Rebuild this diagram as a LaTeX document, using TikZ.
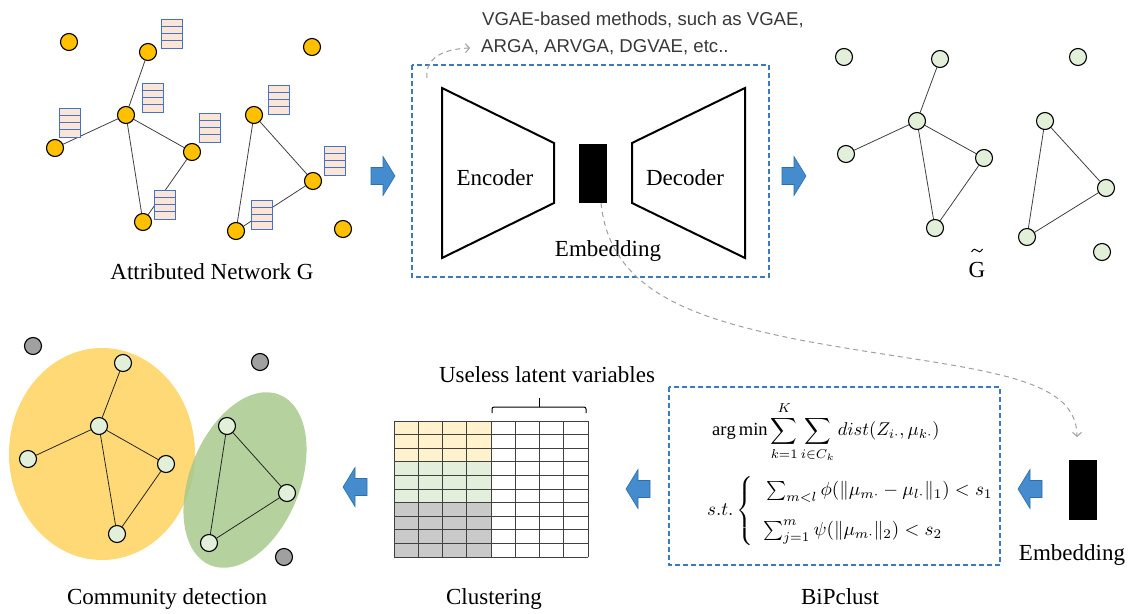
\documentclass[tikz,border=0pt]{standalone}
\usepackage{amsmath}
\usepackage{fontspec}
\setmainfont{Liberation Serif}
\newfontfamily\vgaefont{Liberation Sans}
\usetikzlibrary{arrows.meta}
\pgfdeclarelayer{back}
\pgfdeclarelayer{edges}
\pgfsetlayers{back,edges,main}
\definecolor{onodefill}{HTML}{FFC000}
\definecolor{lgreen}{HTML}{E2F0D9}
\definecolor{graynd}{HTML}{A0A0A0}
\definecolor{attrblue}{HTML}{4472C4}
\definecolor{peach}{HTML}{FBE5D6}
\definecolor{boxblue}{HTML}{3D7AB8}
\definecolor{arrfill}{HTML}{448CCD}
\definecolor{arrdraw}{HTML}{2F6EA8}
\definecolor{cellyel}{HTML}{FFF2CC}
\definecolor{cellgrn}{HTML}{E2EFDA}
\definecolor{cellgry}{HTML}{C9C9C9}
\definecolor{ellyel}{HTML}{FED976}
\definecolor{ellgrn}{HTML}{A8C98C}
\begin{document}
\begin{tikzpicture}[x=1pt,y=-1pt,
  onode/.style={circle,draw=black,line width=1.1pt,fill=onodefill,minimum size=17pt,inner sep=0pt},
  gnode/.style={circle,draw=black,line width=1.1pt,fill=lgreen,minimum size=17pt,inner sep=0pt},
  grnode/.style={circle,draw=black,line width=1.1pt,fill=graynd,minimum size=17pt,inner sep=0pt},
  edgeline/.style={draw=black!75,line width=0.8pt},
  lbl/.style={font=\fontsize{23}{27}\selectfont,inner sep=0pt},
  dbox/.style={draw=boxblue,dash pattern=on 5pt off 3pt,line width=1.4pt},
  trap/.style={draw=black,line width=2pt,line join=miter},
  gdash/.style={draw=gray!75,dash pattern=on 5pt off 4pt,line width=1pt,-{Straight Barb[length=4pt,width=9pt]}},
  blockarrow/.style={fill=arrfill,draw=arrdraw,line width=0.6pt,line join=miter},
  embrect/.style={fill=black,minimum width=28pt,minimum height=59pt,inner sep=0pt},
  attrbox/.pic={\draw[draw=attrblue,fill=peach,line width=1pt] (0,0) rectangle (21,29);
    \foreach \k in {1,2,3}{\draw[attrblue,line width=1.3pt] (0,7.25*\k) -- (21,7.25*\k);}},
  rarrow/.pic={\path[blockarrow] (-24,-8.5) -- (-12,-8.5) -- (-12,-19.5) -- (0,0) -- (-12,19.5) -- (-12,8.5) -- (-24,8.5) -- cycle;},
  larrow/.pic={\path[blockarrow] (24,-8.5) -- (12,-8.5) -- (12,-19.5) -- (0,0) -- (12,19.5) -- (12,8.5) -- (24,8.5) -- cycle;}
]
\useasboundingbox (0,0) rectangle (1132,613);

% ---------- top-left attributed network ----------
\node[onode] (a1) at (69,42) {};
\node[onode] (a2) at (148,52) {};
\node[onode] (a3) at (126,115) {};
\node[onode] (a4) at (55,148) {};
\node[onode] (a5) at (192,152) {};
\node[onode] (a6) at (143,222) {};
\node[onode] (a7) at (254,115) {};
\node[onode] (a8) at (313,181) {};
\node[onode] (a9) at (236,231) {};
\node[onode] (a10) at (312,47) {};
\node[onode] (a11) at (343,229) {};
\begin{pgfonlayer}{edges}
\draw[edgeline] (a2)--(a3) (a3)--(a4) (a3)--(a5) (a3)--(a6) (a5)--(a6)
  (a7)--(a8) (a7)--(a9) (a8)--(a9);
\end{pgfonlayer}
\pic at (161,19) {attrbox};
\pic at (142,83) {attrbox};
\pic at (59,108) {attrbox};
\pic at (199,113) {attrbox};
\pic at (154,190) {attrbox};
\pic at (268,85) {attrbox};
\pic at (324,146) {attrbox};
\pic at (251,200) {attrbox};
\node[lbl,anchor=base] (lblG) at (212,279) {Attributed Network G};

\pic at (395,176) {rarrow};

% ---------- middle VGAE box ----------
\draw[dbox] (412,65) rectangle (769,277);
\draw[trap] (442,88) -- (554,143) -- (554,203) -- (442,258) -- cycle;
\draw[trap] (745,88) -- (632,143) -- (632,203) -- (745,258) -- cycle;
\node[embrect] (emb1) at (593,173.5) {};
\node[lbl,anchor=base] (enc) at (495,185) {Encoder};
\node[lbl,anchor=base] (dec) at (685,185) {Decoder};
\node[lbl,anchor=base] (embl) at (608,256) {Embedding};
\node[anchor=base west,inner sep=0pt,font=\vgaefont\fontsize{18.6}{22}\selectfont,text=black!78] (vg1) at (482,25) {VGAE-based methods, such as VGAE,};
\node[anchor=base west,inner sep=0pt,font=\vgaefont\fontsize{18.6}{22}\selectfont,text=black!78] (vg2) at (481,52) {ARGA, ARVGA, DGVAE, etc..};
\coordinate (c1s) at (427,78);
\coordinate (c1e) at (470,48);
\draw[gdash] (c1s) .. controls (425,60) and (440,49) .. (c1e);

\pic at (806,176) {rarrow};

% ---------- top-right reconstructed graph ----------
\node[gnode] (b1) at (844,57) {};
\node[gnode] (b2) at (940,59) {};
\node[gnode] (b3) at (917,121) {};
\node[gnode] (b4) at (846,154) {};
\node[gnode] (b5) at (984,158) {};
\node[gnode] (b6) at (935,228) {};
\node[gnode] (b7) at (1078,57) {};
\node[gnode] (b8) at (1045,121) {};
\node[gnode] (b9) at (1106,188) {};
\node[gnode] (b10) at (1027,237) {};
\node[gnode] (b11) at (1102,252) {};
\begin{pgfonlayer}{edges}
\draw[edgeline] (b2)--(b3) (b3)--(b4) (b3)--(b5) (b3)--(b6) (b5)--(b6)
  (b8)--(b9) (b8)--(b10) (b9)--(b10);
\end{pgfonlayer}
\node[lbl,anchor=base] (lblGt) at (977,277) {G};
\draw[line width=1pt] (971.5,252) .. controls (973.5,248.5) and (975.5,248.5) .. (977,250.5)
  .. controls (978.5,252.5) and (980.5,252.5) .. (982.5,249);

% ---------- bottom-right embedding ----------
\node[embrect,minimum height=60pt] (emb2) at (1083,490) {};
\node[lbl,anchor=base] (embl2) at (1072,560) {Embedding};
\coordinate (c2e) at (1077,437);
\draw[gdash] ([xshift=8pt]emb1.south) .. controls (610,290) and (690,318) .. (800,340)
  .. controls (960,370) and (1077,370) .. (c2e);

\pic at (1018,489) {larrow};

% ---------- BiPclust box ----------
\draw[dbox] (669,387) rectangle (1000,565);
\node[anchor=west,inner sep=0pt] (obj) at (712,432)
  {\scalebox{1.85}{$\displaystyle \arg\min\sum_{k=1}^{K}\sum_{i\in C_k} dist(Z_{i\cdot},\mu_{k\cdot})$}};
\node[anchor=west,inner sep=0pt] (cons) at (707,511)
  {\scalebox{1.9}{$s.t.\left\{\begin{array}{l}
     \rule{0pt}{9pt}\sum_{m<l}\phi(\|\mu_{m\cdot}-\mu_{l\cdot}\|_1)<s_1\\[9pt]
     \sum_{j=1}^{m}\psi(\|\mu_{m\cdot}\|_2)<s_2\rule[-4pt]{0pt}{4pt}
   \end{array}\right.$}};
\node[lbl,anchor=base] (lblB) at (840,604) {BiPclust};

\pic at (626,489) {larrow};

% ---------- clustering grid ----------
\fill[cellyel] (394,421) rectangle (491,461.8);
\fill[cellgrn] (394,461.8) rectangle (491,502.6);
\fill[cellgry] (394,502.6) rectangle (491,557);
\foreach \c in {0,...,8}{\draw[black!75,line width=0.9pt] (394+24.25*\c,421) -- (394+24.25*\c,557);}
\foreach \r in {0,...,10}{\draw[black!75,line width=0.9pt] (394,421+13.6*\r) -- (588,421+13.6*\r);}
\draw[line width=1pt,rounded corners=2pt] (492,413) -- (492,407) -- (586,407) -- (586,413);
\draw[line width=1pt] (539,407) -- (539,398);
\node[lbl,anchor=base] (lblU) at (547,382) {Useless latent variables};
\node[lbl,anchor=base] (lblC) at (494,604) {Clustering};

\pic at (343,487) {larrow};

% ---------- bottom-left community detection ----------
\begin{pgfonlayer}{back}
\fill[ellyel] (102,454) ellipse [x radius=93, y radius=106];
\fill[ellgrn,opacity=0.85] (245,480) ellipse [x radius=55, y radius=92, rotate=-22];
\end{pgfonlayer}
\node[grnode] (g1) at (33,346) {};
\node[grnode] (g2) at (260,362) {};
\node[grnode] (g3) at (284,557) {};
\node[gnode] (d1) at (123,363) {};
\node[gnode] (d2) at (99,426) {};
\node[gnode] (d3) at (28,459) {};
\node[gnode] (d4) at (166,464) {};
\node[gnode] (d5) at (117,534) {};
\node[gnode] (d6) at (227,426) {};
\node[gnode] (d7) at (287,493) {};
\node[gnode] (d8) at (209,543) {};
\begin{pgfonlayer}{edges}
\draw[edgeline,draw=black!85] (d1)--(d2) (d2)--(d3) (d2)--(d4) (d2)--(d5) (d4)--(d5)
  (d6)--(d7) (d6)--(d8) (d7)--(d8);
\end{pgfonlayer}
\node[lbl,anchor=base] (lblCD) at (167,604) {Community detection};
\end{tikzpicture}
\end{document}
